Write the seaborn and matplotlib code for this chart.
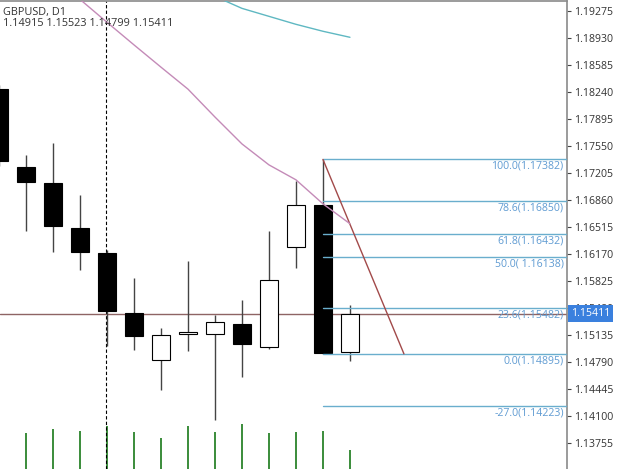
import matplotlib
matplotlib.use("Agg")
import matplotlib.pyplot as plt
import matplotlib.transforms as mtransforms
import seaborn as sns
import pandas as pd

# GBPUSD daily candles
opens  = [1.18281, 1.17286, 1.17082, 1.16508, 1.16190, 1.15412, 1.14812,
          1.15144, 1.15144, 1.15271, 1.14978, 1.16266, 1.16802, 1.14915]
highs  = [1.18330, 1.17439, 1.17592, 1.16929, 1.16228, 1.15871, 1.15221,
          1.16088, 1.15386, 1.15590, 1.16470, 1.17108, 1.17382, 1.15523]
lows   = [1.17300, 1.16470, 1.16202, 1.15973, 1.14991, 1.14940, 1.14430,
          1.14927, 1.14047, 1.14595, 1.14952, 1.15998, 1.14895, 1.14799]
closes = [1.17363, 1.17095, 1.16534, 1.16202, 1.15437, 1.15118, 1.15131,
          1.15170, 1.15297, 1.15016, 1.15845, 1.16802, 1.14900, 1.15411]
volumes = [81400, 79200, 88000, 83600, 94600, 81400, 68200,
           94600, 81400, 99000, 79200, 81400, 83600, 41800]

# moving averages
ma_fast_idx = [1, 2, 3, 4, 5, 6, 7, 8, 9, 10, 11, 12, 13]
ma_fast = [1.20041, 1.19735, 1.19429, 1.19136, 1.18847, 1.18562, 1.18281,
           1.17924, 1.17580, 1.17312, 1.17121, 1.16814, 1.16559]
ma_slow_idx = [8, 9, 10, 11, 12, 13]
ma_slow = [1.19467, 1.19314, 1.19212, 1.19110, 1.19021, 1.18944]

# fibonacci retracement
fib_levels = ["100.0", "78.6", "61.8", "50.0", "23.6", "0.0", "-27.0"]
fib_prices = [1.17382, 1.16850, 1.16432, 1.16138, 1.15482, 1.14895, 1.14223]
fib_start, fib_end = 12, 15

price_ticks = [1.19275, 1.18930, 1.18585, 1.18240, 1.17895, 1.17550, 1.17205,
               1.16860, 1.16515, 1.16170, 1.15825, 1.15480, 1.15135, 1.14790,
               1.14445, 1.14100, 1.13755]
last_price = 1.15411
separator_idx = 4

sns.set_style("white")
plt.rcParams["font.family"] = ["Open Sans", "DejaVu Sans"]

fig = plt.figure(figsize=(6.25, 4.69), dpi=100)
ax = fig.add_axes([0, 0, 567 / 625, 0.997])

n = len(opens)
idx = list(range(n))

# volume bars on a twin axis
vax = ax.twinx()
vdf = pd.DataFrame({"i": idx, "v": volumes})
sns.barplot(data=vdf, x="i", y="v", native_scale=True, width=0.08,
            color="#3f8f3f", saturation=1, linewidth=0, ax=vax)
vax.set_ylim(0, 1031800)
vax.set_axis_off()
vax.set_zorder(0)
ax.set_zorder(1)
ax.patch.set_visible(False)

# current price line
ax.axhline(last_price, color="#8e6464", lw=1, zorder=1)

# separator
ax.axvline(separator_idx - 0.04, color="black", lw=0.8, ls=(0, (3, 2)), zorder=1)

# candles
for i in idx:
    o, h, l, c = opens[i], highs[i], lows[i], closes[i]
    ax.vlines(i, l, h, color="#444444", lw=1, zorder=2)
    bull = c >= o
    ax.bar(i, abs(c - o), bottom=min(o, c), width=0.64,
           color="white" if bull else "black", edgecolor="black",
           lw=0.8, zorder=3)

# moving averages
sns.lineplot(x=ma_fast_idx, y=ma_fast, color="#c48bb8", lw=1, ax=ax, zorder=5)
sns.lineplot(x=ma_slow_idx, y=ma_slow, color="#5fb8c2", lw=1, ax=ax, zorder=5)

# fibonacci
trans = mtransforms.blended_transform_factory(ax.transAxes, ax.transData)
for lev, p in zip(fib_levels, fib_prices):
    ax.plot([fib_start, 21.2], [p, p], color="#6aaecd", lw=1, zorder=4)
    sp = " " if lev == "50.0" else ""
    ax.text(0.994, p - 0.00018, f"{lev}({sp}{p:.5f})", transform=trans,
            ha="right", va="top", fontsize=7.6, color="#5f9bd2", zorder=6)
ax.plot([fib_start, fib_end], [fib_prices[0], fib_prices[5]],
        color="#a24a4a", lw=1, zorder=4)

ax.set_xlim(0.037, 21.04)
ax.set_ylim(1.13422, 1.19403)

# axis styling
ax.yaxis.tick_right()
ax.set_yticks(price_ticks)
ax.set_yticklabels([f"{t:.5f}" for t in price_ticks])
ax.tick_params(axis="y", direction="out", length=3, width=0.8, pad=2,
               labelsize=7.6, colors="#444444", labelcolor="#333333")
ax.set_xticks([])
for side in ["left", "bottom"]:
    ax.spines[side].set_visible(False)
for side in ["right", "top"]:
    ax.spines[side].set_color("#8a8a8a")
    ax.spines[side].set_linewidth(1.2)

# last price box
ax.text(1.0, last_price, "1.15411", transform=mtransforms.offset_copy(
            trans, fig=fig, x=4, y=0, units="dots"),
        ha="left", va="center", fontsize=7.6, color="white", zorder=10,
        clip_on=False,
        bbox=dict(boxstyle="square,pad=0.25", facecolor="#3a80de",
                  edgecolor="none"))

# header text
fig.text(3 / 625, 1 - 12 / 469, "GBPUSD, D1", fontsize=7.8,
         color="#333333", va="center", ha="left")
fig.text(3 / 625, 1 - 24 / 469, "1.14915 1.15523 1.14799 1.15411",
         fontsize=7.8, color="#333333", va="center", ha="left")

fig.savefig("out.png", dpi=100)
